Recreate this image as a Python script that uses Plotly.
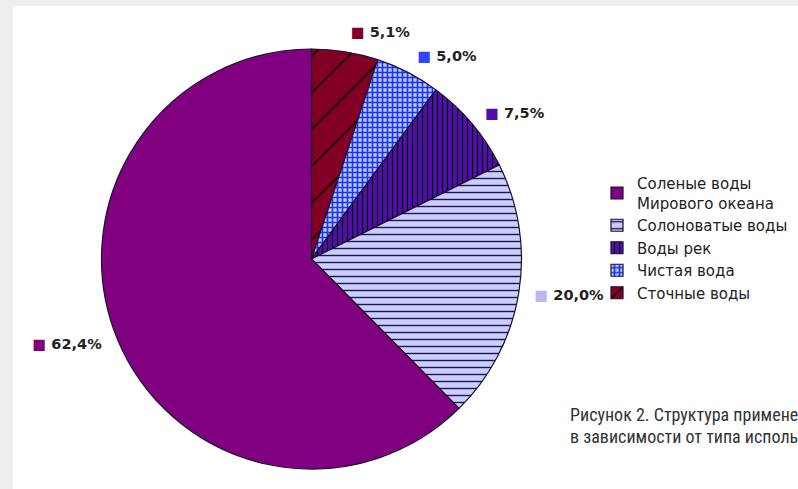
import plotly.graph_objects as go

labels = ["Сточные воды", "Чистая вода", "Воды рек", "Солоноватые воды", "Соленые воды<br>Мирового океана"]
values = [5.1, 5.0, 7.5, 20.0, 62.4]
colors = ["#820024", "#3344ff", "#5010a8", "#ccccff", "#800080"]
key_colors = ["#820024", "#3344ff", "#5010a8", "#b8b8f0", "#800080"]
pattern_shapes = ["/", "+", "|", "-", ""]
pattern_fg = ["#000000", "#2233ee", "#000000", "#1a1a40", "#000000"]
pattern_bg = ["#820024", "#b8ccff", "#5010a8", "#ccccff", "#800080"]
pattern_size = [26, 5, 5, 7, 8]
pattern_solidity = [0.06, 0.55, 0.22, 0.2, 0.0]
caption_lines = ["Рисунок 2. Структура применения воды", "в зависимости от типа использования"]

W, H = 798, 489
cx, cy, r = 311.5, 259, 210
r_text = 222  # radius of the invisible carrier pie for the outside labels


def dom(rad):
    return dict(x=[(cx - rad) / W, (cx + rad) / W], y=[1 - (cy + rad) / H, 1 - (cy - rad) / H])


fig = go.Figure()
# visible pie
fig.add_trace(go.Pie(
    labels=labels,
    values=values,
    sort=False,
    direction="clockwise",
    rotation=0,
    textinfo="none",
    marker=dict(
        colors=colors,
        line=dict(color="#1a1030", width=1.2),
        pattern=dict(shape=pattern_shapes, fgcolor=pattern_fg, bgcolor=pattern_bg,
                     size=pattern_size, solidity=pattern_solidity, fillmode="replace"),
    ),
    domain=dom(r),
    hoverinfo="label+percent",
))
# transparent carrier pie, slightly larger, only for the outside value labels
fig.add_trace(go.Pie(
    labels=labels,
    values=values,
    sort=False,
    direction="clockwise",
    rotation=0,
    showlegend=False,
    customdata=key_colors,
    texttemplate="<span style='color:%{customdata}'>■</span> %{value:.1f}%",
    textposition="outside",
    textfont=dict(family="DejaVu Sans", size=14.5, color="#222222", weight="bold"),
    marker=dict(colors=["rgba(0,0,0,0)"] * len(values), line=dict(width=0)),
    domain=dom(r_text),
    hoverinfo="skip",
))

fig.update_layout(
    width=W, height=H,
    margin=dict(l=0, r=0, t=0, b=0),
    paper_bgcolor="#eeeeee",
    separators=", ",
    showlegend=True,
    legend=dict(x=597 / W, y=1 - 167 / H, xanchor="left", yanchor="top",
                font=dict(family="DejaVu Sans", size=15, color="#222222"),
                bgcolor="rgba(0,0,0,0)", traceorder="reversed", itemwidth=30),
    shapes=[dict(type="rect", xref="paper", yref="paper", x0=13 / W, x1=1.02, y0=-0.02, y1=1 - 6 / H,
                 fillcolor="#ffffff", line=dict(width=0), layer="below")],
    annotations=[
        dict(text=caption_lines[0], xref="paper", yref="paper", x=568 / W, y=1 - 414 / H,
             xanchor="left", yanchor="middle", showarrow=False,
             font=dict(family="Roboto Condensed, Liberation Sans Narrow, Roboto", size=18, color="#333333")),
        dict(text=caption_lines[1], xref="paper", yref="paper", x=568 / W, y=1 - 436 / H,
             xanchor="left", yanchor="middle", showarrow=False,
             font=dict(family="Roboto Condensed, Liberation Sans Narrow, Roboto", size=18, color="#333333")),
    ],
)

fig.write_html("out.html", config={"displayModeBar": False},
               post_script="document.body.style.margin='0';document.body.style.overflow='hidden';")
